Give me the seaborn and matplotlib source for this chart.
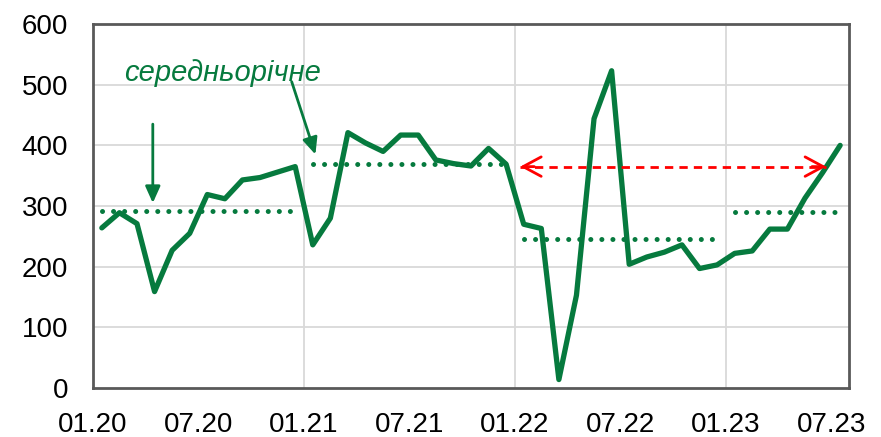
import numpy as np
import pandas as pd
import seaborn as sns
import matplotlib.pyplot as plt

# monthly values 01.20 .. 07.23
values = [264, 289, 271, 159, 227, 255, 319, 312, 343, 347, 356, 365,
          236, 280, 421, 404, 390, 417, 417, 376, 370, 366, 395, 369,
          270, 263, 14, 153, 444, 523, 204, 216, 224, 236, 197, 203,
          222, 226, 262, 262, 313, 355, 400]
tick_labels = ['01.20', '07.20', '01.21', '07.21', '01.22', '07.22', '01.23', '07.23']
# annual averages: (first month index, last month index, value)
avg_start = [0, 12, 24, 36]
avg_end = [11, 23, 35, 42]
avg_value = [292, 369, 246, 291]
ref_level = 365
label = 'середньорічне'

green = '#067A3E'
df = pd.DataFrame({'month': np.arange(len(values)), 'value': values})

sns.set_style('white')
plt.rcParams['font.family'] = ['Liberation Sans', 'DejaVu Sans']

fig = plt.figure(figsize=(8.81, 4.37), dpi=100)
ax = fig.add_axes([0.1056, 0.112, 0.858, 0.833])

ax.set_ylim(0, 600)
ax.set_xlim(-0.5, 42.5)
ax.set_yticks(range(0, 601, 100))
ax.set_xticks(np.arange(-0.5, 42, 6))
ax.set_xticklabels(tick_labels)
ax.tick_params(axis='both', labelsize=20, length=0, labelcolor='black')
ax.tick_params(axis='x', pad=17)
ax.tick_params(axis='y', pad=18)

for yv in range(100, 600, 100):
    ax.axhline(yv, color='#d9d9d9', lw=1.3, zorder=0)
for xv in [11.5, 23.5, 35.5]:
    ax.axvline(xv, color='#d9d9d9', lw=1.3, zorder=0)

sns.lineplot(data=df, x='month', y='value', color=green, lw=3.8, ax=ax, zorder=3)
ax.set_xlabel('')
ax.set_ylabel('')

for s, e, v in zip(avg_start, avg_end, avg_value):
    ax.plot([s, e], [v, v], color=green, lw=3.6, linestyle=(0, (0.01, 2.2)),
            dash_capstyle='round', zorder=2)

# red double arrow: dashed shaft, solid open heads
ax.plot([23.8, 41.2], [ref_level, ref_level], color='red', lw=2,
        linestyle=(0, (3, 2.2)), zorder=4)
for tip, tail in [(23.8, 24.6), (41.2, 40.4)]:
    ax.annotate('', xy=(tip, ref_level), xytext=(tail, ref_level),
                arrowprops=dict(arrowstyle='->,head_length=1.3,head_width=0.7',
                                color='red', lw=2, shrinkA=0, shrinkB=0),
                zorder=4)

ax.annotate('', xy=(2.9, 305), xytext=(2.9, 435),
            arrowprops=dict(arrowstyle='-|>,head_length=1.0,head_width=0.45',
                            color=green, lw=2, shrinkA=0, shrinkB=0))
ax.annotate('', xy=(12.15, 385), xytext=(10.8, 505),
            arrowprops=dict(arrowstyle='-|>,head_length=1.0,head_width=0.45',
                            color=green, lw=2, shrinkA=0, shrinkB=0))
ax.text(6.85, 519, label, color=green, fontsize=21, style='italic',
        ha='center', va='center')

for sp in ax.spines.values():
    sp.set_visible(True)
    sp.set_color('#595959')
    sp.set_linewidth(2)

fig.savefig('out.png', dpi=100)
